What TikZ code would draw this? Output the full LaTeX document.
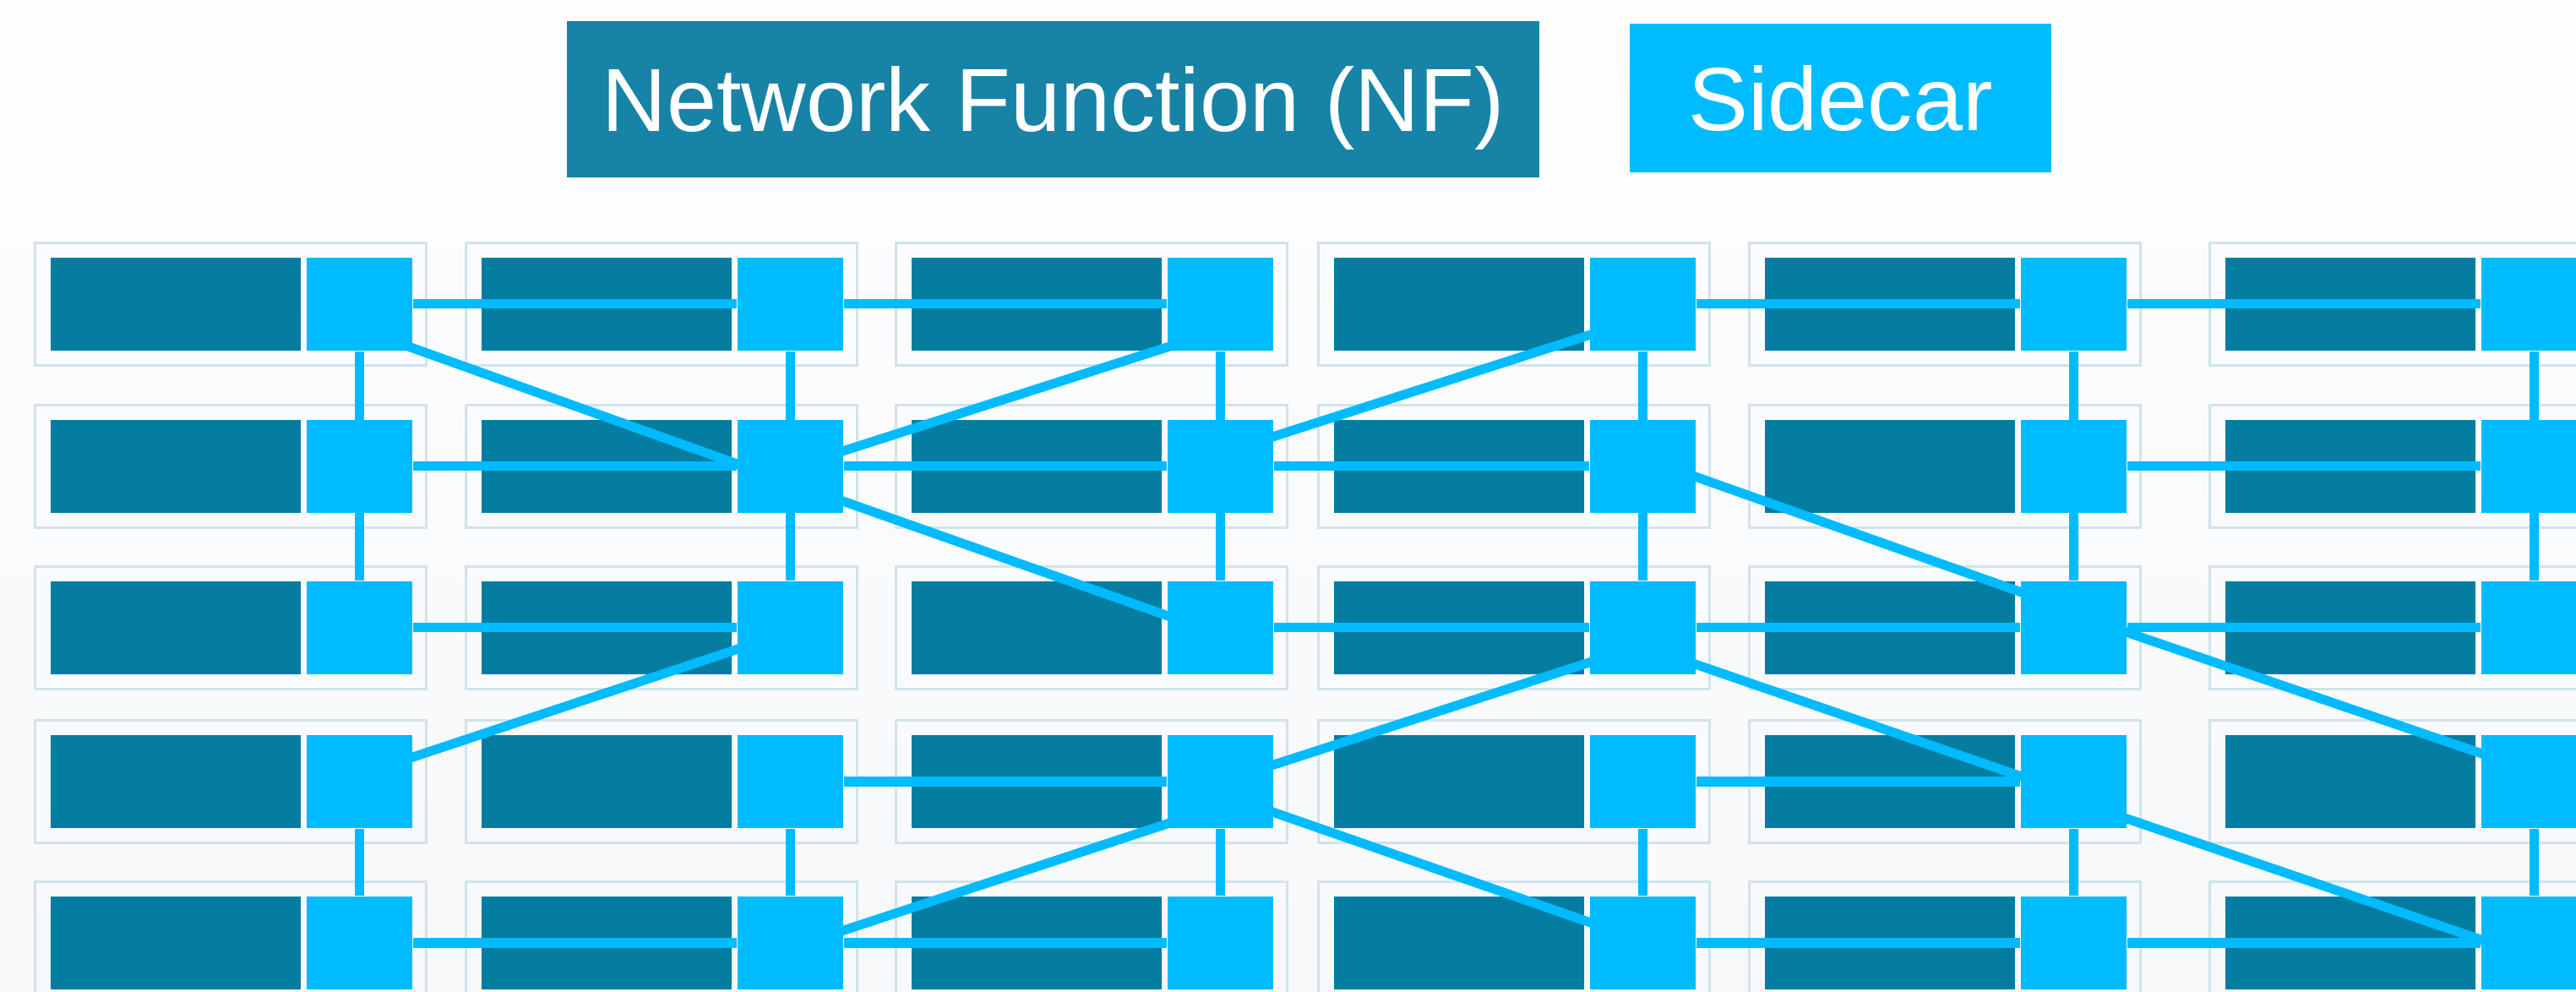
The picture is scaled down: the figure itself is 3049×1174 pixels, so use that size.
\documentclass[tikz,border=0pt]{standalone}
\usepackage{fontspec}
\setmainfont{Liberation Sans}
\usetikzlibrary{calc}
\definecolor{nfdark}{RGB}{5,125,161}
\definecolor{nflegend}{RGB}{23,131,166}
\definecolor{sidecar}{RGB}{0,187,255}
\definecolor{cellline}{RGB}{208,227,235}
\definecolor{bgtop}{RGB}{254,254,255}
\definecolor{bgbot}{RGB}{246,248,250}
\begin{document}
\begin{tikzpicture}[x=0.01cm,y=-0.01cm,
  cellbox/.style={draw=cellline,line width=0.03cm,minimum width=4.63cm,minimum height=1.45cm,inner sep=0pt},
  nfbox/.style={fill=nfdark,minimum width=2.96cm,minimum height=1.10cm,inner sep=0pt},
  scbox/.style={fill=sidecar,minimum width=1.25cm,minimum height=1.10cm,inner sep=0pt},
  link/.style={draw=sidecar,line width=0.11cm},
  diag/.style={link,shorten <=-0.3cm,shorten >=-0.3cm},
  legend/.style={text=white,inner sep=0pt,text height=0.76cm,text depth=0cm,
    font=\fontsize{30.2pt}{36pt}\selectfont}]
\useasboundingbox (0,0) rectangle (3049,1174);
\clip (0,0) rectangle (3049,1174);
\shade[top color=bgtop,bottom color=bgbot] (0,0) rectangle (3049,1174);

% legend
\node[legend,fill=nflegend,minimum width=11.51cm,minimum height=1.85cm] (lnf) at (1246.5,117.5) {Network Function (NF)};
\node[legend,fill=sidecar,minimum width=4.99cm,minimum height=1.76cm] (lsc) at (2178.5,116) {Sidecar};

% grid of cells
\foreach \c/\x in {1/60,2/570,3/1079,4/1579,5/2089,6/2634}{
  \foreach \r/\y in {1/305,2/497,3/688,4/870,5/1061}{
    \node[cellbox] (o\c\r) at (\x+213,\y+55) {};
    \node[nfbox] (n\c\r) at (\x+148,\y+55) {};
    \node[scbox] (s\c\r) at (\x+365.5,\y+55) {};
  }
}

% horizontal links
\foreach \a/\b in {11/21,21/31,41/51,51/61,
                   12/22,22/32,32/42,52/62,
                   13/23,33/43,43/53,53/63,
                   24/34,44/54,
                   15/25,25/35,45/55,55/65}
  \draw[link] (s\a) -- (s\b);

% vertical links
\foreach \c in {1,...,6}{
  \draw[link] (s\c1) -- (s\c3);
  \draw[link] (s\c4) -- (s\c5);
}

% diagonal links
\foreach \a/\da/\b/\db in {11/52/22/-3, 22/-18.5/31/51, 22/41.5/33/-14.5,
                           14/-29/23/25.5, 25/-15/34/50, 32/-35.5/41/36.5,
                           34/-20/43/41, 34/36.5/45/-24.5, 42/12.5/53/-42.5,
                           43/43.5/54/-6.5, 53/5.5/64/-33.5, 54/44/65/-4}
  \draw[diag] ($(s\a.east)+(0,\da)$) -- ($(s\b.west)+(0,\db)$);
\end{tikzpicture}
\end{document}
